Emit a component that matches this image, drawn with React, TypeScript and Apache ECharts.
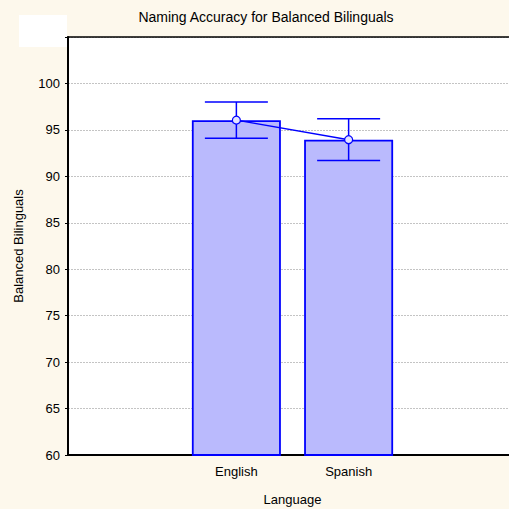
import React, { useEffect, useRef } from "react";
import * as echarts from "echarts";

const categories = ["", "English", "Spanish", ""];
const means: (number | null)[] = [null, 96.05, 93.95, null];
const upperErr: (number | null)[] = [null, 98.0, 96.2, null];
const lowerErr: (number | null)[] = [null, 94.1, 91.7, null];
const yTicks = [60, 65, 70, 75, 80, 85, 90, 95, 100];

const BLUE = "#0000ff";
const FONT = "Liberation Sans";

export default function App() {
  const ref = useRef<HTMLDivElement>(null);
  useEffect(() => {
    const chart = echarts.init(ref.current!, null, { renderer: "svg" });
    const barData = means.map((v) => (v == null ? "-" : v));
    const errData = means
      .map((_, i) => (upperErr[i] == null ? null : [i, lowerErr[i], upperErr[i]]))
      .filter((d) => d != null);
    chart.setOption({
      animation: false,
      backgroundColor: "#fdf8ec",
      textStyle: { fontFamily: FONT },
      grid: { left: 68, top: 37, width: 449, height: 418, containLabel: false, outerBoundsMode: "none" },
      graphic: [
        { type: "rect", shape: { x: 19, y: 15, width: 48, height: 32 }, style: { fill: "#ffffff" }, z: 0 },
        { type: "rect", shape: { x: 68, y: 37, width: 441, height: 418 }, style: { fill: "#ffffff" }, z: -10, silent: true },
        {
          type: "text",
          x: 266,
          y: 17,
          style: { text: "Naming Accuracy for Balanced Bilinguals", fontFamily: FONT, fontSize: 14, fill: "#000", textAlign: "center", textVerticalAlign: "middle" },
        },
      ],
      xAxis: [
        {
          type: "category",
          data: categories,
          position: "bottom",
          axisLine: { lineStyle: { color: "#000", width: 2 } },
          axisTick: { alignWithLabel: true, inside: true, length: 3, lineStyle: { color: "#000" } },
          axisLabel: { color: "#000", fontSize: 13, fontFamily: FONT, margin: 10 },
          name: "Language",
          nameLocation: "middle",
          nameGap: 38,
          nameTextStyle: { color: "#000", fontSize: 13, fontFamily: FONT },
        },
        {
          type: "category",
          data: categories,
          position: "top",
          axisLine: { lineStyle: { color: "#000", width: 1.5 } },
          axisTick: { alignWithLabel: true, inside: true, length: 3, lineStyle: { color: "#000" } },
          axisLabel: { show: false },
        },
      ],
      yAxis: {
        type: "value",
        min: 60,
        max: 105,
        interval: 5,
        axisLine: { show: true, lineStyle: { color: "#000", width: 2 } },
        axisTick: { show: true, length: 3, lineStyle: { color: "#000" } },
        axisLabel: {
          color: "#000",
          fontSize: 13,
          fontFamily: FONT,
          margin: 8,
          formatter: (v: number) => (yTicks.includes(v) ? String(v) : ""),
        },
        splitLine: { show: true, lineStyle: { color: "#c4c4c4", type: [2, 1], width: 1 } },
        name: "Balanced Bilinguals",
        nameLocation: "middle",
        nameGap: 43,
        nameTextStyle: { color: "#000", fontSize: 13, fontFamily: FONT },
      },
      series: [
        {
          type: "bar",
          data: barData,
          barWidth: 89,
          itemStyle: { color: "#babafd", borderColor: BLUE, borderWidth: 1.8 },
          z: 2,
        },
        {
          type: "custom",
          data: errData,
          z: 3,
          renderItem: (params: any, api: any) => {
            const idx = api.value(0);
            const lo = api.coord([idx, api.value(1)]);
            const hi = api.coord([idx, api.value(2)]);
            const half = 31.5;
            const style = { stroke: BLUE, lineWidth: 1.5 };
            return {
              type: "group",
              children: [
                { type: "line", shape: { x1: hi[0], y1: hi[1], x2: lo[0], y2: lo[1] }, style },
                { type: "line", shape: { x1: hi[0] - half, y1: hi[1], x2: hi[0] + half, y2: hi[1] }, style },
                { type: "line", shape: { x1: lo[0] - half, y1: lo[1], x2: lo[0] + half, y2: lo[1] }, style },
              ],
            };
          },
        },
        {
          type: "line",
          data: means,
          z: 4,
          symbol: "circle",
          symbolSize: 8,
          lineStyle: { color: BLUE, width: 1.5 },
          itemStyle: { color: "#e4e4ff", borderColor: BLUE, borderWidth: 1.2 },
        },
      ],
    });
    return () => chart.dispose();
  }, []);
  return <div ref={ref} style={{ position: "absolute", left: 0, top: 0, width: 509, height: 509 }} />;
}
